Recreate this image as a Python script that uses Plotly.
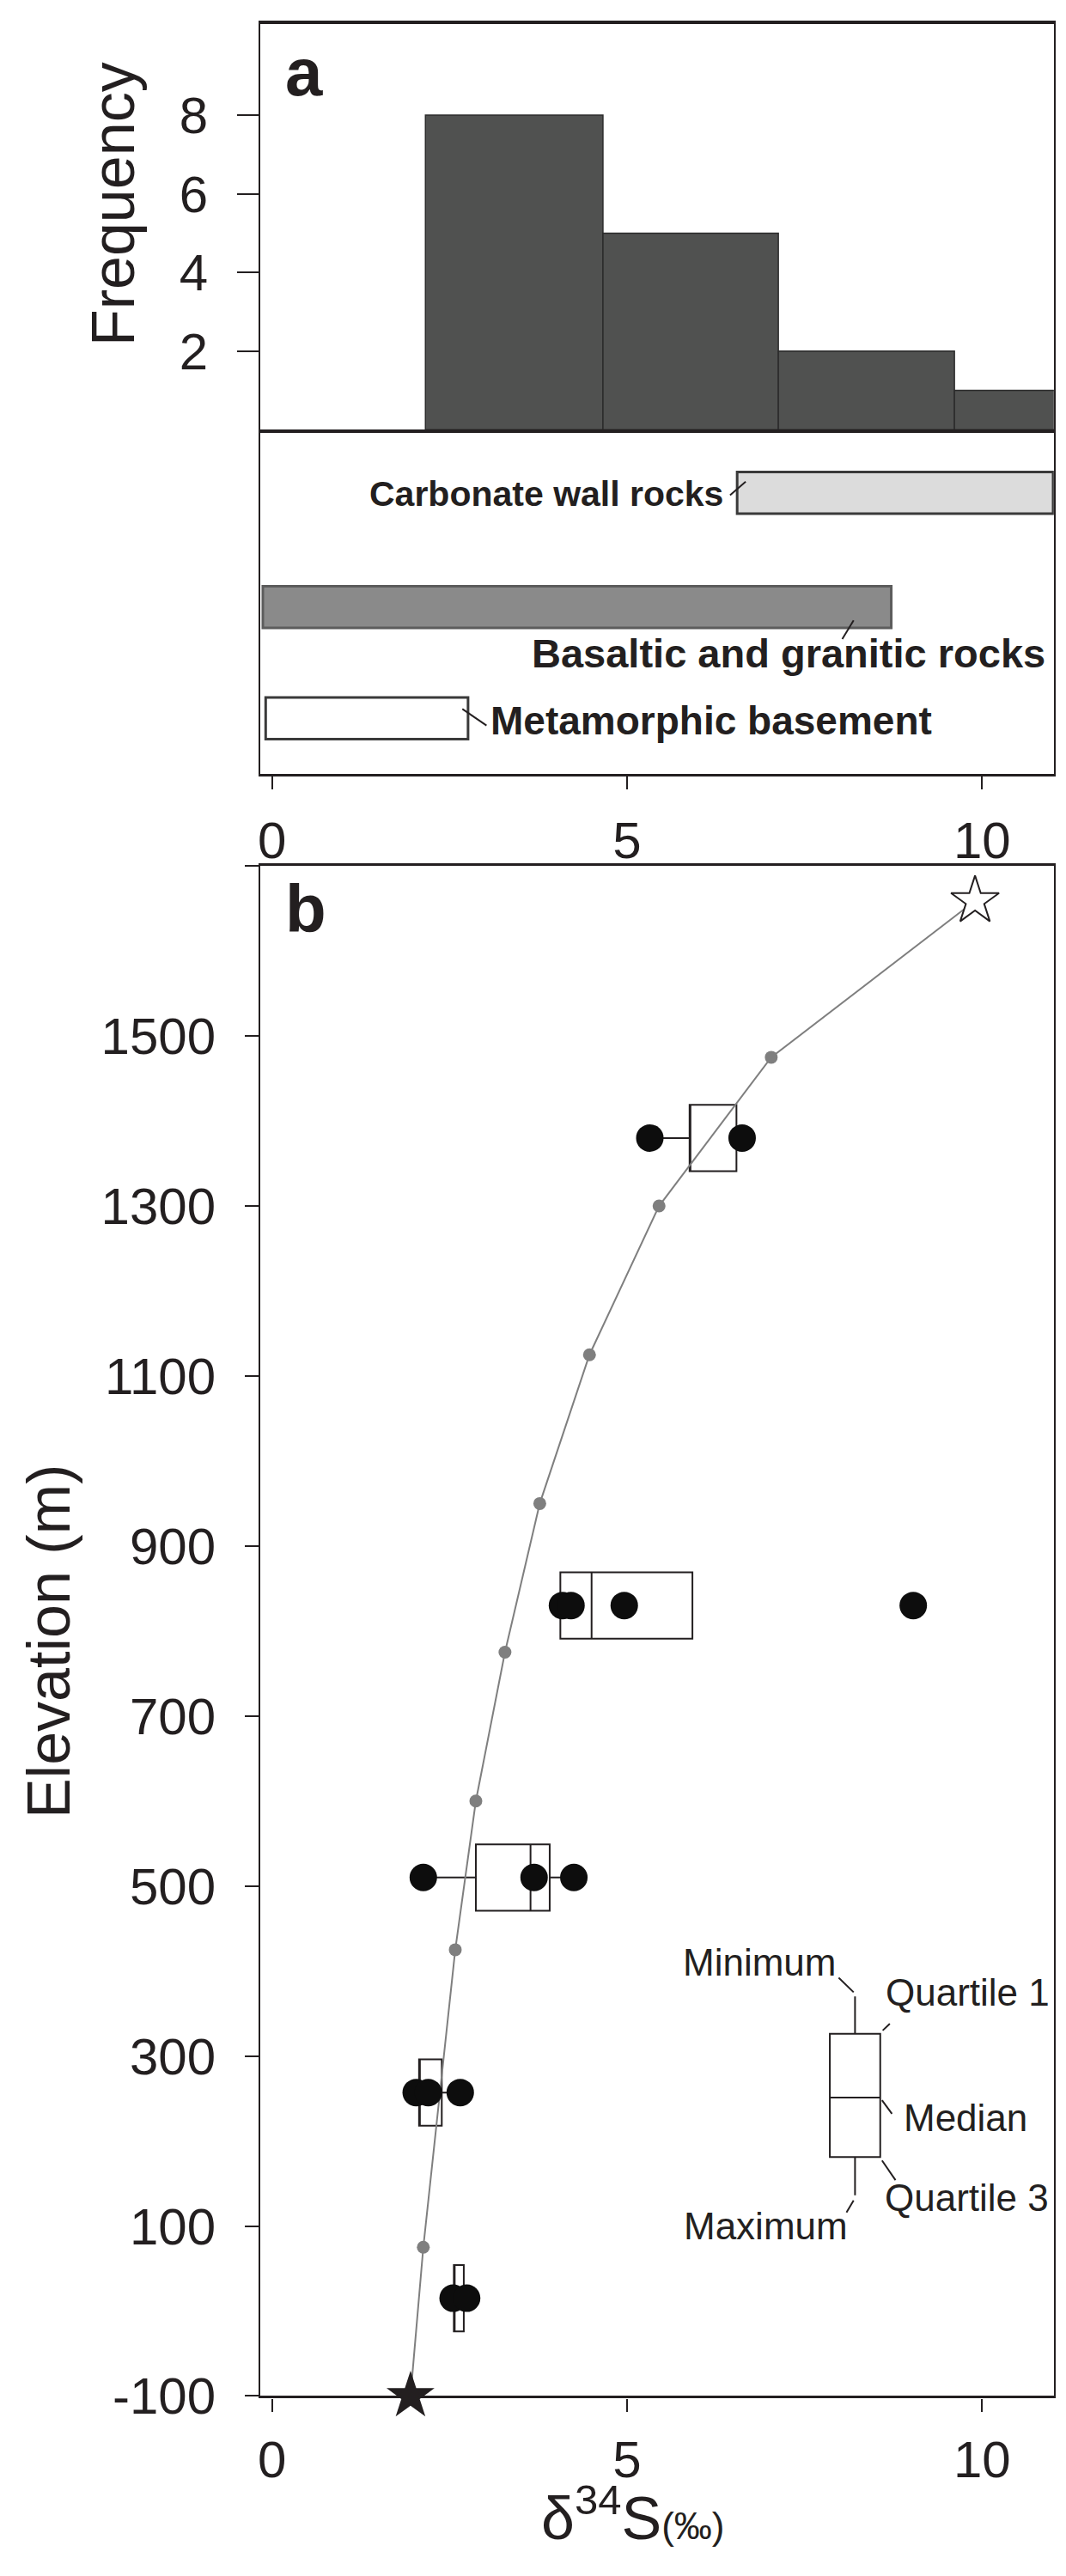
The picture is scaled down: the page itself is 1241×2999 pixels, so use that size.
import plotly.graph_objects as go

W, H = 1241, 2999
INK = "#231f20"
FONT = "Liberation Sans, Arial, sans-serif"

# ---- panel a: histogram of d34S (bin edges and counts)
bin_left = [2.16, 4.66, 7.13, 9.61]
bin_right = [4.66, 7.13, 9.61, 12.09]
bin_count = [8, 5, 2, 1]

# ---- panel a: d34S ranges of the possible sulfur sources
source_names = ["Carbonate wall rocks", "Basaltic and granitic rocks", "Metamorphic basement"]
source_min = [6.55, -0.13, -0.09]
source_max = [11.0, 8.72, 2.76]
source_row = [0.817, 0.485, 0.162]

# ---- panel b: modelled curve (ends drawn as stars)
model_d34s = [1.95, 2.13, 2.58, 2.87, 3.28, 3.77, 4.47, 5.45, 7.03, 9.90]
model_elev = [-100, 75, 425, 600, 775, 950, 1125, 1300, 1475, 1659]

# ---- panel b: measured samples
sample_d34s = [5.32, 6.62,
               4.09, 4.21, 4.96, 9.03,
               2.13, 3.69, 4.25,
               2.03, 2.20, 2.65,
               2.55, 2.74]
sample_elev = [1380, 1380,
               830, 830, 830, 830,
               510, 510, 510,
               257, 257, 257,
               15, 15]

# ---- panel b: box statistics per level
level_elev = [1380, 830, 510, 257, 15]
box_min = [5.32, 4.06, 2.13, 2.03, 2.55]
box_q1 = [5.88, 4.06, 2.87, 2.07, 2.56]
box_med = [5.88, 4.50, 3.64, 2.07, 2.56]
box_q3 = [6.54, 5.92, 3.91, 2.39, 2.70]
box_max = [6.62, 5.92, 4.25, 2.65, 2.74]

# ---- panel b: key box (explanation)
key_x = 8.21
key_stats = dict(lower=136, q1=181, med=251, q3=326, upper=370)
key_labels = ["Minimum", "Quartile 1", "Median", "Quartile 3", "Maximum"]

elev_ticks = [-100, 100, 300, 500, 700, 900, 1100, 1300, 1500]
X_RANGE = [-0.165, 11.01]


def px(v):
    return v / W


def py(v):
    return 1 - v / H


fig = go.Figure()

# histogram
fig.add_trace(go.Bar(
    x=[(l + r) / 2 for l, r in zip(bin_left, bin_right)],
    y=bin_count,
    width=[r - l for l, r in zip(bin_left, bin_right)],
    marker=dict(color="#505150", line=dict(color="#2b2b2b", width=1.5)),
    xaxis="x", yaxis="y"))

# source ranges
fig.add_trace(go.Bar(
    y=source_row,
    x=[b - a for a, b in zip(source_min, source_max)],
    base=source_min,
    orientation="h",
    width=0.121,
    marker=dict(color=["#dcdcdc", "#8a8a8a", "#ffffff"],
                line=dict(color=["#3a3a3a", "#5c5c5c", "#3a3a3a"], width=3)),
    xaxis="x2", yaxis="y2"))

# boxes
fig.add_trace(go.Box(
    y=level_elev, q1=box_q1, median=box_med, q3=box_q3,
    lowerfence=box_min, upperfence=box_max,
    orientation="h", width=78, whiskerwidth=0, boxpoints=False,
    fillcolor="rgba(0,0,0,0)", line=dict(color=INK, width=2),
    xaxis="x3", yaxis="y3"))

# key box
fig.add_trace(go.Box(
    x=[key_x], q1=[key_stats["q1"]], median=[key_stats["med"]], q3=[key_stats["q3"]],
    lowerfence=[key_stats["lower"]], upperfence=[key_stats["upper"]],
    orientation="v", width=0.71, whiskerwidth=0, boxpoints=False,
    fillcolor="rgba(0,0,0,0)", line=dict(color=INK, width=2),
    xaxis="x3", yaxis="y3"))

# model curve
fig.add_trace(go.Scatter(
    x=model_d34s, y=model_elev, mode="lines",
    line=dict(color="#7f7f7f", width=2),
    xaxis="x3", yaxis="y3"))
fig.add_trace(go.Scatter(
    x=model_d34s[1:-1], y=model_elev[1:-1], mode="markers",
    marker=dict(color="#7f7f7f", size=15),
    xaxis="x3", yaxis="y3"))

# samples
fig.add_trace(go.Scatter(
    x=sample_d34s, y=sample_elev, mode="markers",
    marker=dict(color="#0d0d0d", size=32),
    xaxis="x3", yaxis="y3"))

# end stars
fig.add_trace(go.Scatter(
    x=[model_d34s[0]], y=[model_elev[0]], mode="markers", cliponaxis=False,
    marker=dict(symbol="star", color=INK, size=42),
    xaxis="x3", yaxis="y3"))
fig.add_trace(go.Scatter(
    x=[model_d34s[-1]], y=[model_elev[-1]], mode="markers", cliponaxis=False,
    marker=dict(symbol="star", color="white", size=42, line=dict(color=INK, width=2)),
    xaxis="x3", yaxis="y3"))

XDOM = [px(292.8), px(1218.8)]
common_x = dict(range=X_RANGE, showgrid=False, zeroline=False, linecolor=INK,
                tickcolor=INK, tickfont=dict(size=60, color=INK, family=FONT))

fig.update_layout(
    width=W, height=H, margin=dict(l=0, r=0, t=0, b=0),
    paper_bgcolor="white", plot_bgcolor="white", showlegend=False,
    barmode="overlay", boxmode="overlay",
    font=dict(family=FONT, color=INK, size=40),
    xaxis=dict(domain=XDOM, anchor="y", showticklabels=False, ticks="",
               showline=True, linewidth=3.5, mirror=True, **common_x),
    yaxis=dict(domain=[py(498), py(20)], anchor="x", range=[0, 10.32],
               tickvals=[2, 4, 6, 8], ticks="outside", ticklen=25, tickwidth=2,
               tickcolor=INK, ticklabelstandoff=22,
               tickfont=dict(size=60, color=INK, family=FONT),
               showline=True, linewidth=2, linecolor=INK, mirror=True,
               showgrid=False, zeroline=False),
    xaxis2=dict(domain=XDOM, anchor="y2", tickvals=[0, 5, 10], ticks="outside",
                ticklen=15, tickwidth=2, ticklabelstandoff=8,
                showline=True, linewidth=3.3, **common_x),
    yaxis2=dict(domain=[py(903.3), py(498)], anchor="x2", range=[0, 1],
                showticklabels=False, ticks="", showline=True, linewidth=2,
                linecolor=INK, mirror=True, showgrid=False, zeroline=False),
    xaxis3=dict(domain=XDOM, anchor="y3", tickvals=[0, 5, 10], ticks="outside",
                ticklen=15, tickwidth=2, ticklabelstandoff=4,
                showline=True, linewidth=3.3, mirror=True, **common_x),
    yaxis3=dict(domain=[py(2813.3), py(1011.7)], anchor="x3", range=[-100, 1700],
                tickvals=elev_ticks, ticktext=[str(v) for v in elev_ticks],
                ticks="outside", ticklen=16, tickwidth=2, tickcolor=INK,
                ticklabelstandoff=22,
                tickfont=dict(size=60, color=INK, family=FONT),
                minor=dict(tickvals=[1700], ticks="outside", ticklen=16,
                           tickwidth=2, tickcolor=INK),
                showline=True, linewidth=2, linecolor=INK, mirror=True,
                showgrid=False, zeroline=False),
)

ann = []
# panel letters and axis titles
ann.append(dict(text="<b>a</b>", x=px(320), y=py(77), xref="paper", yref="paper",
                xanchor="left", yanchor="middle", showarrow=False, font=dict(size=78)))
ann.append(dict(text="<b>b</b>", x=px(320), y=py(1062), xref="paper", yref="paper",
                xanchor="left", yanchor="middle", showarrow=False, font=dict(size=78)))
ann.append(dict(text="Frequency", x=px(122), y=py(232), xref="paper", yref="paper",
                textangle=-90, xanchor="center", yanchor="middle", showarrow=False,
                font=dict(size=70)))
ann.append(dict(text="Elevation (m)", x=px(46), y=py(1925), xref="paper", yref="paper",
                textangle=-90, xanchor="center", yanchor="middle", showarrow=False,
                font=dict(size=70)))
ann.append(dict(text="δ<sup>34</sup>S<span style='font-size:44px'>(‰)</span>",
                x=px(728), y=py(2952), xref="paper", yref="paper",
                xanchor="center", yanchor="middle", showarrow=False, font=dict(size=70)))

# source labels
ann.append(dict(text="<b>" + source_names[0] + "</b>", x=6.376, y=0.8125, xref="x2", yref="y2",
                xanchor="right", yanchor="middle", showarrow=False, font=dict(size=41)))
ann.append(dict(text="<b>" + source_names[1] + "</b>", x=10.92, y=0.3516, xref="x2", yref="y2",
                xanchor="right", yanchor="middle", showarrow=False, font=dict(size=47)))
ann.append(dict(text="<b>" + source_names[2] + "</b>", x=3.055, y=0.156, xref="x2", yref="y2",
                xanchor="left", yanchor="middle", showarrow=False, font=dict(size=46)))

# key labels
key_pos = [(7.96, 410, "right"), (8.62, 375, "left"), (8.87, 227, "left"),
           (8.61, 133, "left"), (8.13, 100, "right")]
for lab, (kx, ky, anc) in zip(key_labels, key_pos):
    ann.append(dict(text=lab, x=kx, y=ky, xref="x3", yref="y3", xanchor=anc,
                    yanchor="middle", showarrow=False, font=dict(size=44)))
fig.update_layout(annotations=ann)

# leader lines
leaders_a = [((6.45, 0.810), (6.67, 0.849)),
             ((8.03, 0.392), (8.19, 0.446)),
             ((2.68, 0.189), (3.02, 0.141))]
leaders_b = [((7.98, 392), (8.19, 375)),
             ((8.60, 330), (8.70, 338)),
             ((8.59, 248), (8.73, 232)),
             ((8.59, 177), (8.78, 154)),
             ((8.19, 130), (8.09, 116))]
shapes = []
for (x0, y0), (x1, y1) in leaders_a:
    shapes.append(dict(type="line", xref="x2", yref="y2", x0=x0, y0=y0, x1=x1, y1=y1,
                       line=dict(color=INK, width=2)))
for (x0, y0), (x1, y1) in leaders_b:
    shapes.append(dict(type="line", xref="x3", yref="y3", x0=x0, y0=y0, x1=x1, y1=y1,
                       line=dict(color=INK, width=2)))
fig.update_layout(shapes=shapes)

fig.write_html("out.html")
